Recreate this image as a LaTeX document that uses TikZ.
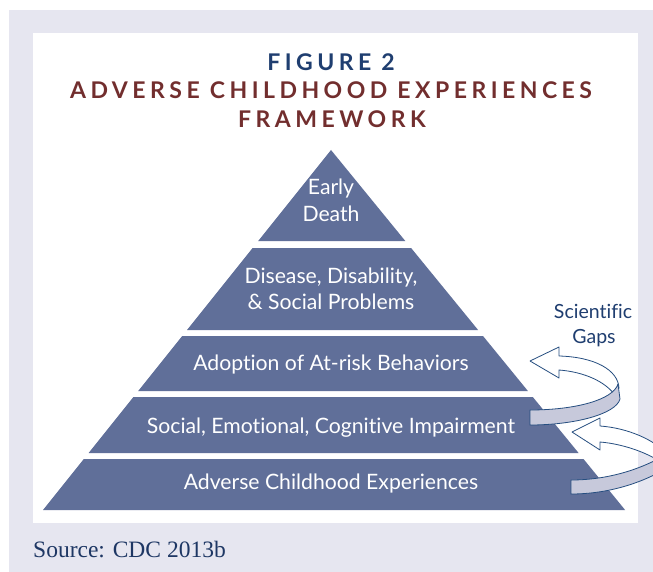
\documentclass[tikz,border=0pt]{standalone}
\usepackage{fontspec}
\setmainfont{Lato}[Ligatures=NoCommon]
\newfontfamily\titlefont{Lato}[LetterSpace=19.5]
\newfontfamily\srcfont{Liberation Serif}
\definecolor{bggray}{RGB}{230,230,240}
\definecolor{pyrblue}{RGB}{96,111,153}
\definecolor{titleblue}{RGB}{31,62,112}
\definecolor{titlered}{RGB}{114,46,46}
\definecolor{arrowblue}{RGB}{38,78,128}
\definecolor{bandgray}{RGB}{199,201,219}
\definecolor{srcblue}{RGB}{30,55,100}
\tikzset{
  tier/.style={fill=pyrblue, draw=none},
  tiertext/.style={text=white, anchor=base, inner sep=0pt, font=\fontsize{21.2}{25}\selectfont},
  titletext/.style={anchor=base, inner sep=0pt, font=\titlefont\bfseries\fontsize{23}{27}\selectfont},
  ribbonback/.style={fill=white, draw=arrowblue, line width=0.8pt, line join=round},
  ribbonfront/.style={fill=bandgray, draw=arrowblue, line width=0.8pt, line join=round},
  gapstext/.style={text=titleblue, anchor=base, inner sep=0pt, font=\fontsize{19.5}{23}\selectfont}
}
\begin{document}
\begin{tikzpicture}[x=1pt,y=-1pt]
\useasboundingbox (0,0) rectangle (653,572);
\fill[bggray] (9,10) rectangle (653,572);
\fill[white] (33,33) rectangle (638,523);

% title
\node[titletext, text=titleblue] (fig) at (331,71) {FIGURE 2};
\node[titletext, text=titlered] (ttl1) at (331,99) {ADVERSE CHILDHOOD EXPERIENCES};
\node[titletext, text=titlered] (ttl2) at (332,128) {FRAMEWORK};

% pyramid tiers
\fill[tier] (331,150) -- (405.3,241) -- (258.2,241) -- cycle;
\fill[tier] (252.6,248) -- (411.1,248) -- (478.1,330) -- (187,330) -- cycle;
\fill[tier] (182.2,336) -- (483,336) -- (527.9,391) -- (138.2,391) -- cycle;
\fill[tier] (133.4,397) -- (532.8,397) -- (578.6,453) -- (88.6,453) -- cycle;
\fill[tier] (83.8,459) -- (583.5,459) -- (625.1,510) -- (43,510) -- cycle;

\node[tiertext] (t1a) at (331,195) {Early};
\node[tiertext] (t1b) at (331,222) {Death};
\node[tiertext] (t2a) at (331,283) {Disease, Disability,};
\node[tiertext] (t2b) at (331,309) {\& Social Problems};
\node[tiertext] (t3) at (331,370) {Adoption of At-risk Behaviors};
\node[tiertext] (t4) at (331,433) {Social, Emotional, Cognitive Impairment};
\node[tiertext] (t5) at (331,489) {Adverse Childhood Experiences};

% scientific gaps label
\node[gapstext] (sg1) at (593,318) {Scientific};
\node[gapstext] (sg2) at (594,343) {Gaps};

% upper ribbon arrow
\draw[ribbonback] (530,361) -- (559,347) -- (559,356) .. controls (595,357) and (618,370) .. (619,388) -- (614,394) .. controls (605,382) and (585,372) .. (559,370) -- (559,378) -- cycle;
\draw[ribbonfront] (618,384) .. controls (613,400) and (575,410) .. (530,410) -- (530,425) .. controls (575,425) and (616,414) .. (620,399) -- cycle;

% lower ribbon arrow (cut by the page edge)
\begin{scope}
\clip (0,0) rectangle (653,572);
\draw[ribbonback] (572,432) -- (600,418) -- (600,426) .. controls (628,428) and (655,440) .. (668,455) -- (668,468) .. controls (655,455) and (625,444) .. (600,442) -- (600,450) -- cycle;
\draw[ribbonfront] (571,480) .. controls (610,480) and (645,468) .. (670,452) -- (670,466) .. controls (645,482) and (610,494) .. (571,494) -- cycle;
\end{scope}

% source
\node[anchor=base west, inner sep=0pt, text=srcblue, font=\srcfont\fontsize{23.5}{27}\selectfont] (src) at (33,557) {Source: CDC 2013b};
\end{tikzpicture}
\end{document}
